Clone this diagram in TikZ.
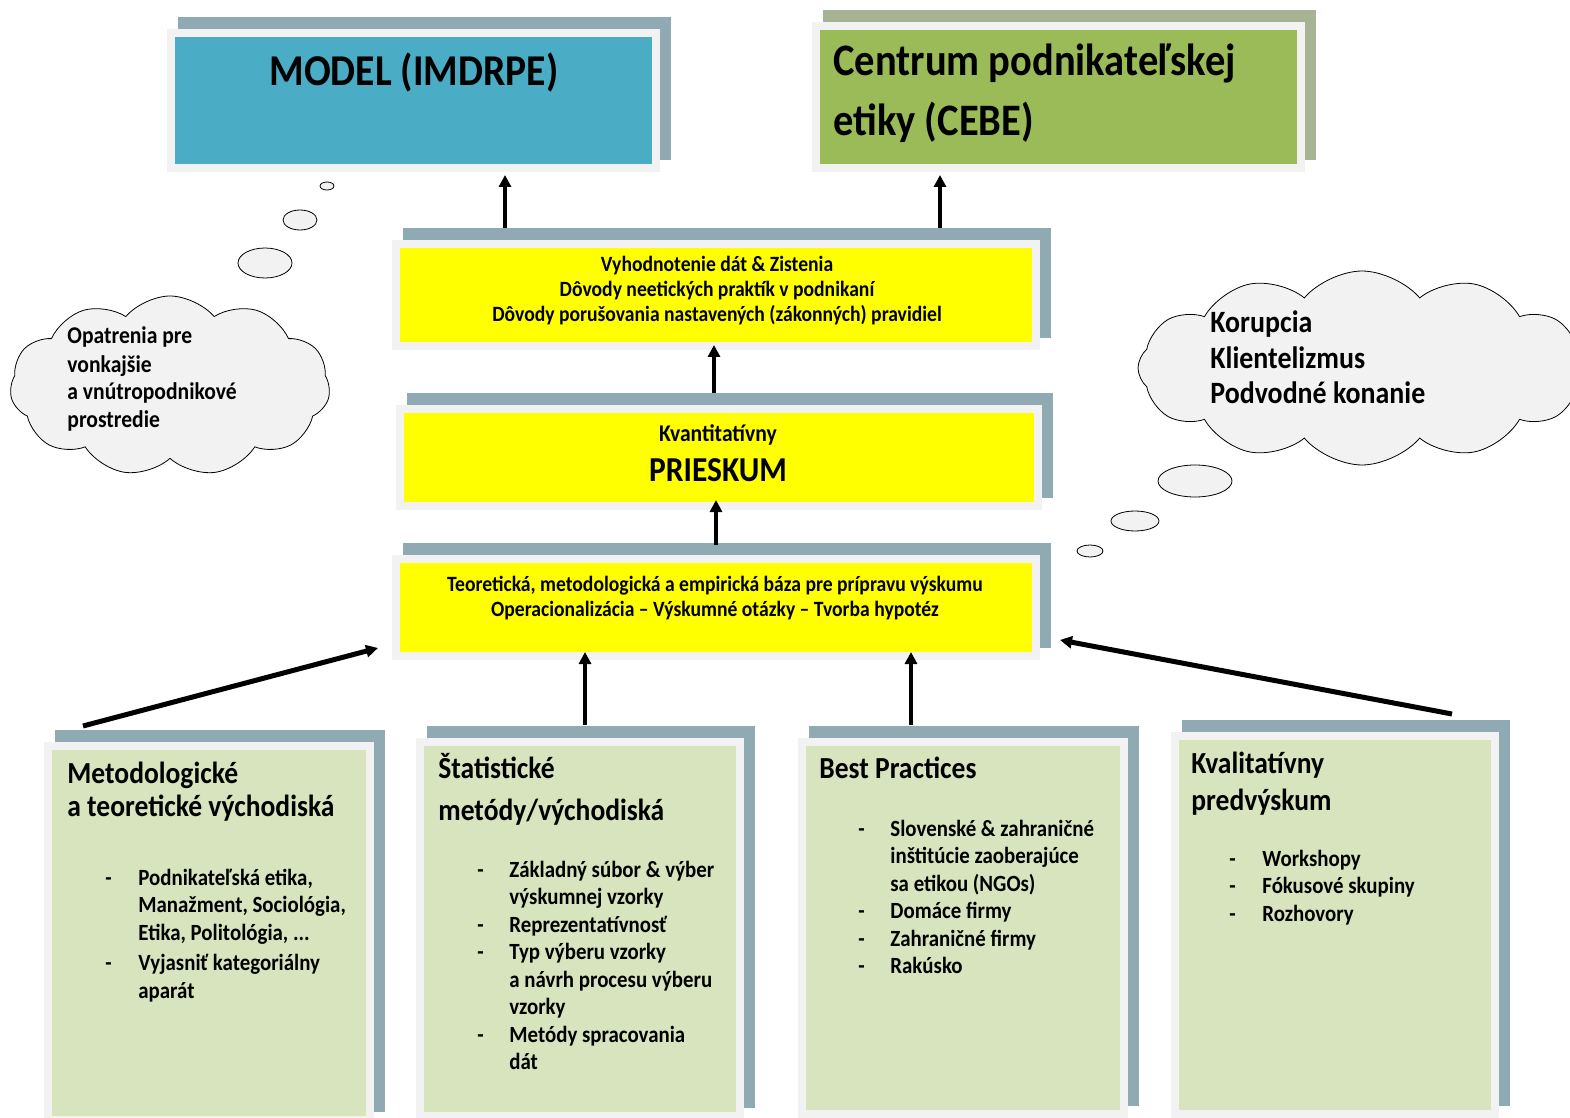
\documentclass[tikz,border=0pt]{standalone}
\usepackage{fontspec}
\setmainfont{Carlito}[FakeStretch=0.9]
\usepackage{tikz}
\usetikzlibrary{arrows.meta}
\usetikzlibrary{calc}
\usetikzlibrary{shadows}
\usetikzlibrary{shapes.symbols,shapes.geometric}

\definecolor{shblue}{HTML}{8FAAB3}
\definecolor{sholive}{HTML}{A7B394}
\definecolor{frameg}{HTML}{F2F2F2}
\definecolor{modelc}{HTML}{4BACC6}
\definecolor{cebec}{HTML}{9BBB59}
\definecolor{lightg}{HTML}{D7E4BD}
\definecolor{yel}{RGB}{255,255,0}

\begin{document}
\begin{tikzpicture}[x=0.5pt, y=-0.5pt,
    panel/.style = {draw=frameg, line width=4pt, inner sep=0pt,
        general shadow={fill=#1, draw=#1, shadow xshift=5.5pt, shadow yshift=6pt}},
    panel/.default = shblue,
    txt/.style = {inner sep=0pt, anchor=base west},
    ctxt/.style = {inner sep=0pt, anchor=base},
    hfont/.style = {font=\fontsize{22}{30}\selectfont\bfseries},
    sfont/.style = {font=\fontsize{10.9}{12.5}\selectfont\bfseries},
    tfont/.style = {font=\fontsize{15.3}{16.5}\selectfont\bfseries},
    lfont/.style = {font=\fontsize{11.6}{13.75}\selectfont\bfseries},
    arr/.style = {line width=2pt, -{Triangle[width=6pt,length=6pt]}},
    cl/.style = {cloud, draw, thin, fill=frameg, cloud puff arc=100, inner sep=0pt},
    bub/.style = {ellipse, draw, thin, fill=frameg, inner sep=0pt}]
    \useasboundingbox (0,0) rectangle (1570,1118);

    % thought clouds
    \node [cl, cloud puffs=11, minimum width=160pt, minimum height=90pt] (lc) at (170,386) {};
    \node [bub, minimum width=27pt, minimum height=15pt] (lb1) at (265,263) {};
    \node [bub, minimum width=17pt, minimum height=10pt] (lb2) at (300,220) {};
    \node [bub, minimum width=7pt, minimum height=4pt] (lb3) at (327,186) {};
    \node [cl, cloud puffs=12, minimum width=224pt, minimum height=97pt] (rc) at (1362,368) {};
    \node [bub, minimum width=37pt, minimum height=16pt] (rb1) at (1195,481) {};
    \node [bub, minimum width=24pt, minimum height=10pt] (rb2) at (1135,521) {};
    \node [bub, minimum width=13pt, minimum height=6pt] (rb3) at (1090,551) {};
    \node [txt, font=\fontsize{12}{14}\selectfont\bfseries] (lctx) at (67,344)
        {\begin{tabular}[t]{@{}l@{}}Opatrenia pre\\vonkajšie\\a vnútropodnikové\\prostredie\end{tabular}};
    \node [txt, font=\fontsize{15.5}{17.75}\selectfont\bfseries] (rctx) at (1210,333)
        {\begin{tabular}[t]{@{}l@{}}Korupcia\\Klientelizmus\\Podvodné konanie\end{tabular}};

    % boxes
    \node [panel, fill=modelc, minimum width=242.5pt, minimum height=67.5pt] (m) at (413.5,100.5) {};
    \node [panel=sholive, fill=cebec, minimum width=242.5pt, minimum height=71pt] (ce) at (1058.5,97) {};
    \node [panel, fill=yel, minimum width=320pt, minimum height=51pt] (v) at (716,295) {};
    \node [panel, fill=yel, minimum width=319pt, minimum height=48.5pt] (p) at (719,457.5) {};
    \node [panel, fill=yel, minimum width=320pt, minimum height=48.5pt] (t) at (716,607.5) {};
    \node [panel, fill=lightg, minimum width=161pt, minimum height=187pt] (mb) at (209,933) {};
    \node [panel, fill=lightg, minimum width=160pt, minimum height=187pt] (sb) at (580,929) {};
    \node [panel, fill=lightg, minimum width=161pt, minimum height=186pt] (bb) at (963,928) {};
    \node [panel, fill=lightg, minimum width=160pt, minimum height=189pt] (kb) at (1335,925) {};

    % texts
    \node [ctxt, hfont] (mtx) at (414,86) {MODEL (IMDRPE)};
    \node [txt, font=\fontsize{22.5}{30}\selectfont\bfseries] (cetx) at (833,76)
        {\begin{tabular}[t]{@{}l@{}}Centrum podnikateľskej\\etiky (CEBE)\end{tabular}};
    \node [ctxt, sfont] (vtx) at (717,272)
        {\begin{tabular}[t]{@{}c@{}}Vyhodnotenie dát \& Zistenia\\Dôvody neetických praktík v podnikaní\\Dôvody porušovania nastavených (zákonných) pravidiel\end{tabular}};
    \node [ctxt, font=\fontsize{12}{14}\selectfont\bfseries] (ptx1) at (718,441) {Kvantitatívny};
    \node [ctxt, font=\fontsize{17.5}{20}\selectfont\bfseries] (ptx2) at (718,481) {PRIESKUM};
    \node [ctxt, sfont] (ttx) at (715,591)
        {\begin{tabular}[t]{@{}c@{}}Teoretická, metodologická a empirická báza pre prípravu výskumu\\Operacionalizácia -- Výskumné otázky -- Tvorba hypotéz\end{tabular}};

    \node [txt, tfont] (mbt) at (67,783)
        {\begin{tabular}[t]{@{}l@{}}Metodologické\\a teoretické východiská\end{tabular}};
    \node [txt, lfont] (mbl) at (105,885)
        {\begin{tabular}[t]{@{}p{16.5pt}@{}l@{}}
        - & Podnikateľská etika,\\
          & Manažment, Sociológia,\\
          & Etika, Politológia, ...\\[1.5pt]
        - & Vyjasniť kategoriálny\\
          & aparát
        \end{tabular}};

    \node [txt, tfont] (sbt) at (438,778)
        {\begin{tabular}[t]{@{}l@{}}Štatistické\\[4.5pt]metódy/východiská\end{tabular}};
    \node [txt, lfont] (sbl) at (477,877)
        {\begin{tabular}[t]{@{}p{16pt}@{}l@{}}
        - & Základný súbor \& výber\\
          & výskumnej vzorky\\
        - & Reprezentatívnosť\\
        - & Typ výberu vzorky\\
          & a návrh procesu výberu\\
          & vzorky\\
        - & Metódy spracovania\\
          & dát
        \end{tabular}};

    \node [txt, tfont] (bbt) at (819,778) {Best Practices};
    \node [txt, lfont] (bbl) at (858,836)
        {\begin{tabular}[t]{@{}p{16pt}@{}l@{}}
        - & Slovenské \& zahraničné\\
          & inštitúcie zaoberajúce\\
          & sa etikou (NGOs)\\
        - & Domáce firmy\\
        - & Zahraničné firmy\\
        - & Rakúsko
        \end{tabular}};

    \node [txt, tfont] (kbt) at (1191,773)
        {\begin{tabular}[t]{@{}l@{}}Kvalitatívny\\[2pt]predvýskum\end{tabular}};
    \node [txt, lfont] (kbl) at (1229,866)
        {\begin{tabular}[t]{@{}p{16.5pt}@{}l@{}}
        - & Workshopy\\
        - & Fókusové skupiny\\
        - & Rozhovory
        \end{tabular}};

    % arrows
    \draw [arr, shorten <=6pt, shorten >=1.5pt] (v.north -| 505,0) -- (m.south -| 505,0);
    \draw [arr, shorten <=6pt, shorten >=1.5pt] (v.north -| 940,0) -- (ce.south -| 940,0);
    \draw [arr, shorten <=6pt, shorten >=-2.5pt] (p.north -| 714,0) -- (v.south -| 714,0);
    \draw [arr, shorten <=5pt, shorten >=-5pt] (t.north -| 716,0) -- (p.south -| 716,0);
    \draw [arr, shorten <=6.5pt, shorten >=-4pt] (sb.north -| 585,0) -- (t.south -| 585,0);
    \draw [arr, shorten <=6.5pt, shorten >=-4pt] (bb.north -| 911,0) -- (t.south -| 911,0);
    \draw [arr, line width=2.5pt] ([xshift=19.5pt,yshift=8pt]mb.north west) -- ([xshift=-7pt,yshift=6pt]t.south west);
    \draw [arr, line width=2.5pt] ([xshift=-23.5pt,yshift=9pt]kb.north east) -- ([xshift=10pt,yshift=10pt]t.south east);
\end{tikzpicture}
\end{document}
